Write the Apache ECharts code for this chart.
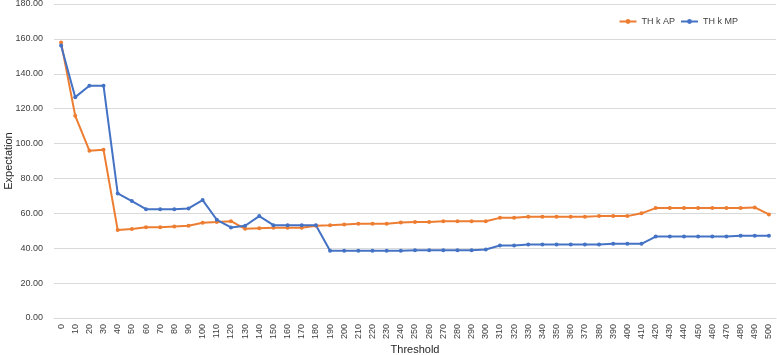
<!DOCTYPE html>
<html>
<head>
<meta charset="utf-8">
<script src="https://cdn.jsdelivr.net/npm/echarts@6/dist/echarts.min.js"></script>
<style>
  html, body { margin: 0; padding: 0; background: #fff; }
  #main { width: 777px; height: 355px; }
</style>
</head>
<body>
<div id="main"></div>
<script>
var thresholds = [];
for (var t = 0; t <= 500; t += 10) thresholds.push(String(t));

var apValues = [158.0, 115.9, 95.9, 96.4, 50.4, 51.0, 52.0, 52.0, 52.5, 52.9,
                54.6, 55.0, 55.5, 51.1, 51.5, 51.7, 51.7, 51.7, 52.9, 53.2,
                53.6, 54.0, 54.0, 54.0, 54.8, 55.1, 55.1, 55.5, 55.5, 55.5,
                55.5, 57.4, 57.4, 58.0, 58.0, 58.0, 58.0, 58.0, 58.4, 58.4,
                58.4, 60.0, 63.0, 63.0, 63.0, 63.0, 63.0, 63.0, 63.0, 63.4,
                59.4];
var mpValues = [156.2, 126.6, 133.1, 133.1, 71.4, 67.0, 62.4, 62.4, 62.4, 62.8,
                67.6, 56.3, 51.9, 52.9, 58.4, 53.2, 53.2, 53.2, 53.2, 38.5,
                38.5, 38.5, 38.5, 38.5, 38.5, 38.9, 38.9, 38.9, 38.9, 38.9,
                39.3, 41.6, 41.6, 42.1, 42.1, 42.1, 42.1, 42.1, 42.1, 42.5,
                42.5, 42.5, 46.7, 46.7, 46.7, 46.7, 46.7, 46.7, 47.1, 47.1,
                47.1];

var chart = echarts.init(document.getElementById('main'));
var font = 'Liberation Sans';

chart.setOption({
    animation: false,
    textStyle: { fontFamily: font },
    legend: {
        right: 34,
        top: 12,
        itemWidth: 17,
        itemHeight: 6,
        itemGap: 5,
        textStyle: { fontSize: 9, color: '#404040', fontFamily: font },
        data: ['TH k AP', 'TH k MP']
    },
    grid: {
        left: 54,
        right: 1,
        top: 4,
        bottom: 37,
        containLabel: false,
        outerBoundsMode: 'none'
    },
    xAxis: {
        type: 'category',
        data: thresholds,
        boundaryGap: true,
        name: 'Threshold',
        nameLocation: 'middle',
        nameGap: 26,
        nameMoveOverlap: false,
        nameTextStyle: { fontSize: 11, color: '#262626' },
        axisLine: { lineStyle: { color: '#d9d9d9' } },
        axisTick: { show: false },
        axisLabel: {
            interval: 0,
            rotate: 90,
            fontSize: 9,
            color: '#404040',
            margin: 6
        }
    },
    yAxis: {
        type: 'value',
        min: 0,
        max: 180,
        interval: 20,
        name: 'Expectation',
        nameLocation: 'middle',
        nameGap: 40,
        nameMoveOverlap: false,
        nameTextStyle: { fontSize: 11, color: '#262626' },
        axisLine: { show: false },
        axisTick: { show: false },
        splitLine: { lineStyle: { color: '#d9d9d9' } },
        axisLabel: {
            fontSize: 9,
            color: '#404040',
            margin: 11,
            formatter: function (v) { return v.toFixed(2); }
        }
    },
    series: [{
        name: 'TH k AP',
        type: 'line',
        data: apValues,
        symbol: 'circle',
        symbolSize: 4,
        lineStyle: { width: 2, color: '#ED7D31' },
        itemStyle: { color: '#ED7D31' }
    }, {
        name: 'TH k MP',
        type: 'line',
        data: mpValues,
        symbol: 'circle',
        symbolSize: 4,
        lineStyle: { width: 2, color: '#4472C4' },
        itemStyle: { color: '#4472C4' }
    }]
});
</script>
</body>
</html>
